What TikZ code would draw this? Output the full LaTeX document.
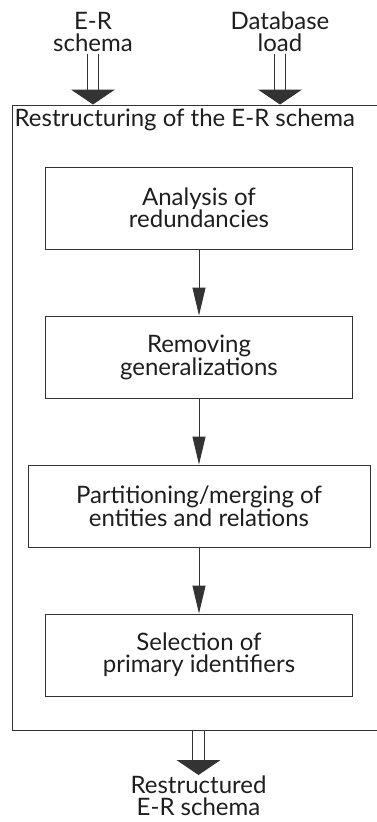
\documentclass[tikz,border=0pt]{standalone}
\usepackage{fontspec}
\setmainfont{Lato}
\usetikzlibrary{arrows.meta,positioning,calc}

\definecolor{inkline}{HTML}{333333}
\definecolor{inktext}{HTML}{1E1E1E}

\begin{document}
\begin{tikzpicture}[
  x=1pt, y=1pt,
  node distance=66pt,
  stepbox/.style={draw=inkline, line width=1pt, align=center, minimum width=306.5pt, minimum height=82pt, inner sep=0pt, text=inktext, font=\fontsize{24}{22}\selectfont},
  widebox/.style={stepbox, minimum width=342pt},
  outerbox/.style={draw=inkline, line width=1pt, minimum width=365pt, minimum height=625pt, inner sep=0pt},
  lbl/.style={align=center, inner sep=2pt, text=inktext, font=\fontsize{24}{22}\selectfont},
  arr/.style={-{Triangle[length=28pt, width=13pt]}, draw=inkline, line width=1pt},
  bigarr/.style={-{Triangle[length=15pt, width=44pt]}, draw=inkline, double, double distance=10.5pt, line width=1pt}
]
\useasboundingbox (0,0) rectangle (376,-822);

% the restructuring phase
\node[outerbox] (restr) at (194.5,-417.5) {};
\node[lbl, anchor=north west] (hdr) at ($(restr.north west)+(1,-2)$) {Restructuring of the E-R schema};

\node[stepbox] (redund) at (199,-208) {Analysis of\\redundancies};
\node[stepbox, below=of redund] (general) {Removing\\generalizations};
\node[widebox, below=of general] (partit) {Partitioning/merging of\\entities and relations};
\node[stepbox, below=of partit] (primid) {Selection of\\primary identifiers};
\draw[arr] (redund) -- (general);
\draw[arr] (general) -- (partit);
\draw[arr] (partit) -- (primid);

% inputs and output
\node[lbl, anchor=south] (erin) at (93,-54) {E-R\\schema};
\node[lbl, anchor=south] (dbload) at (280,-54) {Database\\load};
\node[lbl, anchor=north, inner sep=1pt] (erout) at (198.5,-775) {Restructured\\E-R schema};
\draw[bigarr] (erout |- restr.south) -- (erout);
\draw[bigarr] (erin) -- (erin |- restr.north);
\draw[bigarr] (dbload) -- (dbload |- restr.north);
\end{tikzpicture}
\end{document}
